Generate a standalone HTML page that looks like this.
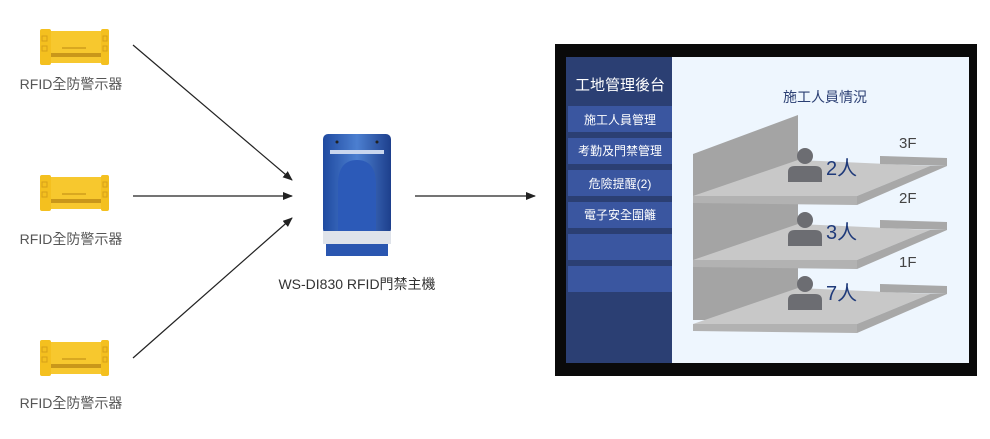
<!DOCTYPE html>
<html><head><meta charset="utf-8"><style>
html,body{margin:0;padding:0;background:#fff;}
svg{display:block;font-family:"Liberation Sans","Noto Sans CJK TC",sans-serif;}
</style></head><body>
<svg width="990" height="439" viewBox="0 0 990 439" xmlns="http://www.w3.org/2000/svg">
<defs>
<g id="dev">
<rect x="50" y="31" width="52" height="32" fill="#f7c82e"/>
<rect x="50" y="53" width="52" height="4" fill="#c9971a"/>
<rect x="62" y="47" width="24" height="2" fill="#d9a820"/>
<rect x="40" y="29" width="11" height="36" rx="2" fill="#f4c01f"/>
<rect x="101" y="29" width="8" height="36" rx="2" fill="#f4c01f"/>
<rect x="42" y="36" width="5" height="5" fill="none" stroke="#d6a018" stroke-width="1"/>
<rect x="42" y="46" width="5" height="5" fill="none" stroke="#d6a018" stroke-width="1"/>
<rect x="103" y="36" width="4" height="5" fill="none" stroke="#d6a018" stroke-width="1"/>
<rect x="103" y="46" width="4" height="5" fill="none" stroke="#d6a018" stroke-width="1"/>
</g>
<marker id="ah" markerWidth="10" markerHeight="8" refX="9" refY="4" orient="auto" markerUnits="userSpaceOnUse">
<path d="M0,0 L10,4 L0,8 Z" fill="#222"/></marker>
<g id="floor">
<polygon points="693,196 798,160 930,166 857,196" fill="#c8c8c8"/>
<polygon points="693,196 857,196 857,205 693,203" fill="#b2b2b2"/>
<polygon points="857,196 930,166 947,166 857,205" fill="#a8a8a8"/>
<polygon points="880,156 947,158 947,166 880,164" fill="#a8a8a8"/>
<circle cx="805" cy="156" r="8" fill="#6c6d72"/>
<path d="M788,182 L788,172 Q788,166 795,166 L815,166 Q822,166 822,172 L822,182 Z" fill="#6c6d72"/>
</g>
<linearGradient id="blu" x1="0" x2="1"><stop offset="0" stop-color="#1f4aa0"/><stop offset="0.5" stop-color="#4c7fd0"/><stop offset="1" stop-color="#1d3f8c"/></linearGradient>
</defs>

<use href="#dev"/>
<use href="#dev" y="146"/>
<use href="#dev" y="311"/>
<g font-size="14" fill="#555" text-anchor="middle">
<text x="71" y="89">RFID全防警示器</text>
<text x="71" y="244">RFID全防警示器</text>
<text x="71" y="408">RFID全防警示器</text>
</g>

<g stroke="#222" stroke-width="1.2" marker-end="url(#ah)">
<line x1="133" y1="45" x2="292" y2="180"/>
<line x1="133" y1="196" x2="292" y2="196"/>
<line x1="133" y1="358" x2="292" y2="218"/>
<line x1="415" y1="196" x2="535" y2="196"/>
</g>

<!-- controller -->
<rect x="323" y="134" width="68" height="100" rx="5" fill="url(#blu)"/>
<path d="M338,234 L338,185 Q338,160 357,160 Q376,160 376,185 L376,234 Z" fill="#2c5ab8"/>
<rect x="330" y="150" width="54" height="4" fill="#c9d6ee"/>
<circle cx="337" cy="142" r="1.5" fill="#222"/><circle cx="377" cy="142" r="1.5" fill="#222"/>
<rect x="323" y="231" width="68" height="13" fill="#dfe3ea"/>
<rect x="326" y="244" width="62" height="12" fill="#2a56b0"/>
<text x="357" y="289" font-size="14" fill="#333" text-anchor="middle">WS-DI830 RFID門禁主機</text>

<!-- monitor -->
<rect x="555" y="44" width="422" height="332" fill="#0a0a0a"/>
<rect x="566" y="57" width="403" height="306" fill="#eef6fe"/>
<rect x="566" y="57" width="106" height="306" fill="#2b3f73"/>
<g fill="#3a56a0">
<rect x="568" y="106" width="104" height="26"/>
<rect x="568" y="138" width="104" height="26"/>
<rect x="568" y="170" width="104" height="26"/>
<rect x="568" y="202" width="104" height="26"/>
<rect x="568" y="234" width="104" height="26"/>
<rect x="568" y="266" width="104" height="26"/>
</g>
<g fill="#fff" text-anchor="middle">
<text x="620" y="90" font-size="15">工地管理後台</text>
<g font-size="12">
<text x="620" y="124">施工人員管理</text>
<text x="620" y="155">考勤及門禁管理</text>
<text x="620" y="188">危險提醒(2)</text>
<text x="620" y="219">電子安全圍籬</text>
</g></g>
<text x="825" y="102" font-size="14" fill="#2b3f73" text-anchor="middle">施工人員情況</text>

<polygon points="693,154 798,115 798,320 693,320" fill="#a4a4a4"/>
<use href="#floor"/>
<use href="#floor" y="64"/>
<use href="#floor" y="128"/>
<g font-size="20" fill="#1f3a7a">
<text x="826" y="175">2人</text>
<text x="826" y="239">3人</text>
<text x="826" y="300">7人</text>
</g>
<g font-size="15" fill="#444">
<text x="899" y="148">3F</text>
<text x="899" y="203">2F</text>
<text x="899" y="267">1F</text>
</g>
</svg>
</body></html>
